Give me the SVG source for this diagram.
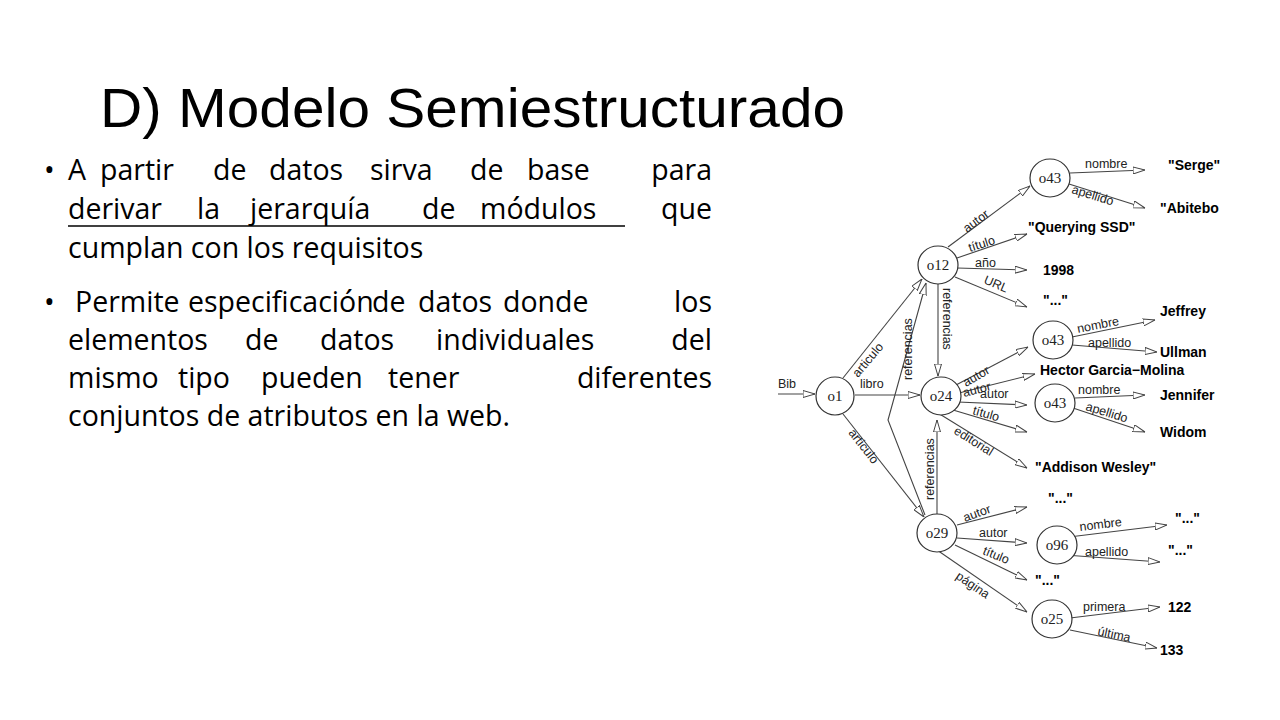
<svg xmlns="http://www.w3.org/2000/svg" width="1280" height="720" viewBox="0 0 1280 720">
<style>
.t{font-family:"Liberation Sans",Arial,sans-serif;font-size:55px;fill:#000}
.b{font-family:"Open Sans","Liberation Sans",sans-serif;font-size:28.5px;fill:#000}
.r{text-anchor:end}
.n ellipse{fill:#fff;stroke:#333;stroke-width:1.2}
.n text{font-family:"Liberation Serif",serif;font-size:15px;text-anchor:middle;fill:#222}
.e line,.e polyline{stroke:#444;stroke-width:1.1;fill:none;marker-end:url(#a)}
.l{font-family:"Liberation Sans",Arial,sans-serif;font-size:12.5px;fill:#222}
.v{font-family:"Liberation Sans",Arial,sans-serif;font-size:14px;font-weight:bold;fill:#000}
</style>
<defs><marker id="a" viewBox="0 0 12 8" refX="12" refY="4" markerWidth="12" markerHeight="8" markerUnits="userSpaceOnUse" orient="auto"><path d="M0,0.5 L12,4 L0,7.5 Z" fill="#fff" stroke="#444" stroke-width="1"/></marker></defs>
<rect width="1280" height="720" fill="#fff"/>
<text class="t" x="100" y="127" textLength="745" lengthAdjust="spacingAndGlyphs">D) Modelo Semiestructurado</text>
<g id="bullets" class="b">
<text x="44" y="180">•</text>
<text x="68" y="180">A</text><text x="100" y="180">partir</text><text x="213" y="180">de</text><text x="269" y="180">datos</text><text x="370" y="180">sirva</text><text x="470" y="180">de</text><text x="527" y="180">base</text><text class="r" x="712" y="180">para</text>
<text x="68" y="219">derivar</text><text x="197" y="219">la</text><text x="250" y="219">jerarquía</text><text x="422" y="219">de</text><text x="480" y="219">módulos</text><text class="r" x="712" y="219">que</text>
<line x1="68" y1="226" x2="625" y2="226" stroke="#000" stroke-width="1.5"/>
<text x="68" y="258">cumplan con los requisitos</text>
<text x="44" y="312">•</text>
<text x="75" y="312">Permite</text><text x="188" y="312">especificación</text><text x="372" y="312">de</text><text x="418" y="312">datos</text><text x="503" y="312">donde</text><text class="r" x="712" y="312">los</text>
<text x="68" y="350">elementos</text><text x="245" y="350">de</text><text x="320" y="350">datos</text><text x="436" y="350">individuales</text><text class="r" x="712" y="350">del</text>
<text x="68" y="388">mismo</text><text x="178" y="388">tipo</text><text x="261" y="388">pueden</text><text x="388" y="388">tener</text><text class="r" x="712" y="388">diferentes</text>
<text x="68" y="426">conjuntos de atributos en la web.</text>
</g>
<g id="connectors" class="e">
<line x1="778" y1="394" x2="815" y2="394"/>
<line x1="843" y1="378" x2="922" y2="279"/>
<line x1="855" y1="395" x2="920" y2="395"/>
<line x1="843" y1="414" x2="924" y2="517"/>
<polyline points="925,515 888,420 926,283"/>
<line x1="938" y1="284" x2="938" y2="376"/>
<line x1="937" y1="514" x2="937" y2="420"/>
<line x1="948" y1="247" x2="1030" y2="186"/>
<line x1="957" y1="258" x2="1027" y2="234"/>
<line x1="957" y1="268" x2="1027" y2="270"/>
<line x1="955" y1="277" x2="1027" y2="307"/>
<line x1="1070" y1="173" x2="1145" y2="170"/>
<line x1="1069" y1="184" x2="1145" y2="208"/>
<line x1="956" y1="385" x2="1028" y2="347"/>
<line x1="959" y1="393" x2="1035" y2="374"/>
<line x1="958" y1="402" x2="1027" y2="405"/>
<line x1="953" y1="410" x2="1027" y2="432"/>
<line x1="938" y1="413" x2="1027" y2="468"/>
<line x1="1072" y1="337" x2="1155" y2="320"/>
<line x1="1072" y1="345" x2="1157" y2="352"/>
<line x1="1075" y1="398" x2="1145" y2="395"/>
<line x1="1073" y1="408" x2="1145" y2="432"/>
<line x1="957" y1="525" x2="1027" y2="507"/>
<line x1="957" y1="538" x2="1027" y2="543"/>
<line x1="955" y1="545" x2="1027" y2="580"/>
<line x1="937" y1="550" x2="1027" y2="612"/>
<line x1="1069" y1="537" x2="1167" y2="525"/>
<line x1="1065" y1="555" x2="1160" y2="562"/>
<line x1="1070" y1="618" x2="1160" y2="607"/>
<line x1="1070" y1="630" x2="1157" y2="648"/>
</g>
<g id="edge-labels" class="l">
<text x="778" y="388">Bib</text>
<text x="860" y="388">libro</text>
<text transform="translate(858,378) rotate(-50)">articulo</text>
<text transform="translate(848,433) rotate(52)">articulo</text>
<text transform="translate(912,380) rotate(-90)">referencias</text>
<text transform="translate(943,288) rotate(90)">referencias</text>
<text transform="translate(934,500) rotate(-90)">referencias</text>
<text transform="translate(967,233) rotate(-37)">autor</text>
<text transform="translate(970,252) rotate(-18)">título</text>
<text x="975" y="267">año</text>
<text transform="translate(983,283) rotate(23)">URL</text>
<text x="1085" y="168">nombre</text>
<text transform="translate(1071,193) rotate(17)">apellido</text>
<text transform="translate(966,387) rotate(-30)">autor</text>
<text transform="translate(964,397) rotate(-14)">autor</text>
<text x="980" y="398">autor</text>
<text transform="translate(972,414) rotate(16)">título</text>
<text transform="translate(953,433) rotate(32)">editorial</text>
<text transform="translate(1078,333) rotate(-11)">nombre</text>
<text x="1088" y="347">apellido</text>
<text x="1078" y="394">nombre</text>
<text transform="translate(1085,410) rotate(17)">apellido</text>
<text transform="translate(965,522) rotate(-20)">autor</text>
<text x="979" y="537">autor</text>
<text transform="translate(982,554) rotate(22)">título</text>
<text transform="translate(955,578) rotate(34)">página</text>
<text transform="translate(1080,531) rotate(-7)">nombre</text>
<text x="1085" y="556">apellido</text>
<text x="1083" y="611">primera</text>
<text transform="translate(1097,635) rotate(12)">última</text>
</g>
<g id="values" class="v">
<text x="1168" y="170">"Serge"</text>
<text x="1160" y="213">"Abitebo</text>
<text x="1028" y="232">"Querying SSD"</text>
<text x="1043" y="275">1998</text>
<text x="1043" y="305">"..."</text>
<text x="1160" y="316">Jeffrey</text>
<text x="1160" y="357">Ullman</text>
<text x="1040" y="375">Hector Garcia−Molina</text>
<text x="1160" y="400">Jennifer</text>
<text x="1160" y="437">Widom</text>
<text x="1035" y="472">"Addison Wesley"</text>
<text x="1048" y="503">"..."</text>
<text x="1175" y="523">"..."</text>
<text x="1168" y="555">"..."</text>
<text x="1035" y="585">"..."</text>
<text x="1168" y="612">122</text>
<text x="1160" y="655">133</text>
</g>
<g id="o43a" class="n"><ellipse cx="1050" cy="178" rx="20" ry="19"/><text x="1050" y="183">o43</text></g>
<g id="o12" class="n"><ellipse cx="938" cy="265" rx="20" ry="19"/><text x="938" y="270">o12</text></g>
<g id="o43b" class="n"><ellipse cx="1053" cy="340" rx="20" ry="19"/><text x="1053" y="345">o43</text></g>
<g id="o1" class="n"><ellipse cx="835" cy="396" rx="19" ry="19"/><text x="835" y="401">o1</text></g>
<g id="o24" class="n"><ellipse cx="941" cy="396" rx="20" ry="19"/><text x="941" y="401">o24</text></g>
<g id="o43c" class="n"><ellipse cx="1055" cy="403" rx="20" ry="19"/><text x="1055" y="408">o43</text></g>
<g id="o29" class="n"><ellipse cx="937" cy="533" rx="20" ry="19"/><text x="937" y="538">o29</text></g>
<g id="o96" class="n"><ellipse cx="1057" cy="545" rx="20" ry="19"/><text x="1057" y="550">o96</text></g>
<g id="o25" class="n"><ellipse cx="1052" cy="619" rx="20" ry="19"/><text x="1052" y="624">o25</text></g>
</svg>
